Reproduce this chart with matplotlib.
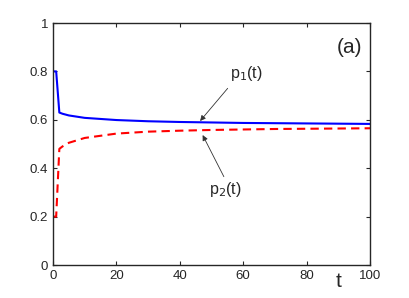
import matplotlib
matplotlib.use("Agg")
import matplotlib.pyplot as plt

plt.rcParams["font.family"] = ["Liberation Sans", "DejaVu Sans"]

# --- datos ---
t = [0, 1, 2, 3, 5, 10, 20, 30, 40, 50, 60, 70, 80, 90, 100]
p1 = [0.8, 0.8, 0.630, 0.625, 0.618, 0.608, 0.599, 0.594, 0.591, 0.589,
      0.587, 0.586, 0.585, 0.584, 0.583]
p2 = [0.2, 0.2, 0.480, 0.490, 0.505, 0.525, 0.543, 0.551, 0.555, 0.558,
      0.560, 0.562, 0.563, 0.564, 0.565]

xticks = [0, 20, 40, 60, 80, 100]
yticks = [0, 0.2, 0.4, 0.6, 0.8, 1]
ytick_labels = ["0", "0.2", "0.4", "0.6", "0.8", "1"]

fig = plt.figure(figsize=(4.09, 2.98), dpi=100)
ax = fig.add_axes([53 / 409, 1 - 265 / 298, 317 / 409, 242 / 298])

ax.plot(t, p1, color="#0000ff", linewidth=1.5)
ax.plot(t, p2, color="#ff0000", linewidth=1.5, linestyle=(0, (4, 2.5)))

ax.set_xlim(0, 100)
ax.set_ylim(0, 1)
ax.set_xticks(xticks)
ax.set_yticks(yticks)
ax.set_yticklabels(ytick_labels)
ax.tick_params(direction="in", top=True, right=True, length=3,
               labelsize=9.5, colors="#262626", width=0.8)
for s in ax.spines.values():
    s.set_color("#262626")
    s.set_linewidth(1.0)

# etiquetas y flechas
ax.text(93.4, 0.90, "(a)", fontsize=15, ha="center", va="center",
        color="#262626")
ax.text(90.2, -0.07, "t", fontsize=15, ha="center", va="center",
        color="#262626")
ax.text(61.0, 0.79, "p$_1$(t)", fontsize=11.5, ha="center", va="center",
        color="#262626")
ax.text(54.3, 0.31, "p$_2$(t)", fontsize=11.5, ha="center", va="center",
        color="#262626")
flecha = dict(arrowstyle="-|>", lw=0.6, color="#333333", mutation_scale=8,
              shrinkA=0, shrinkB=0)
ax.annotate("", xy=(46.4, 0.595), xytext=(55.1, 0.730), arrowprops=flecha)
ax.annotate("", xy=(47.2, 0.537), xytext=(53.9, 0.365), arrowprops=flecha)

fig.savefig("out.png", dpi=100)
